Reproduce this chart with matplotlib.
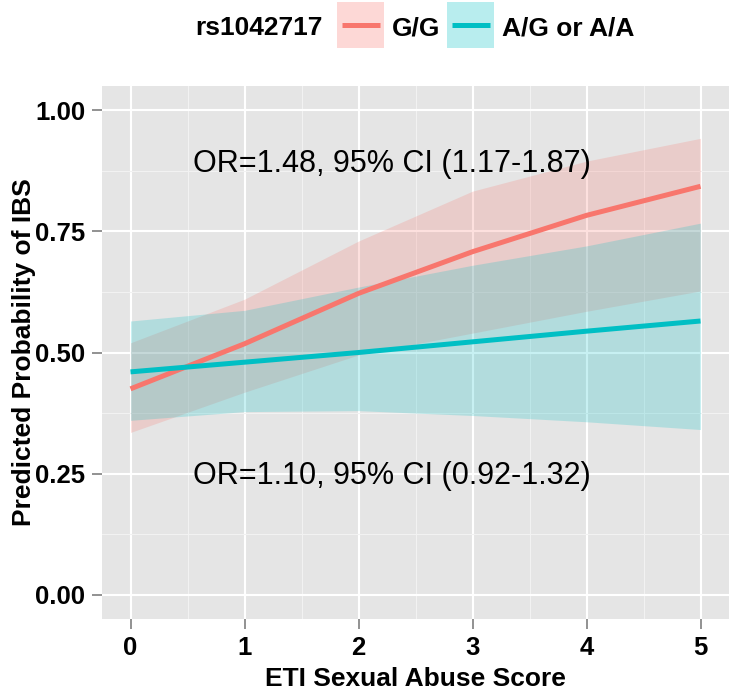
import matplotlib
matplotlib.use('Agg')
import matplotlib.pyplot as plt
from matplotlib.patches import Rectangle
from matplotlib.lines import Line2D
from matplotlib.ticker import MultipleLocator

# Data
score = [0, 1, 2, 3, 4, 5]
gg_fit = [0.425, 0.518, 0.622, 0.708, 0.783, 0.843]
gg_lo = [0.335, 0.418, 0.495, 0.540, 0.585, 0.627]
gg_hi = [0.520, 0.610, 0.730, 0.833, 0.895, 0.942]
ag_fit = [0.460, 0.480, 0.500, 0.522, 0.544, 0.565]
ag_lo = [0.360, 0.378, 0.380, 0.370, 0.357, 0.341]
ag_hi = [0.565, 0.587, 0.635, 0.680, 0.720, 0.767]

x_ticks = [0, 1, 2, 3, 4, 5]
y_ticks = [0.00, 0.25, 0.50, 0.75, 1.00]
group_labels = ['G/G', 'A/G or A/A']
legend_title = 'rs1042717'
annot_top = 'OR=1.48, 95% CI (1.17-1.87)'
annot_bottom = 'OR=1.10, 95% CI (0.92-1.32)'

RED = '#F8766D'
TEAL = '#00BFC4'
W, H = 730, 691

plt.rcParams['font.family'] = ['Liberation Sans', 'DejaVu Sans']

fig = plt.figure(figsize=(W / 100, H / 100), dpi=100)
# panel: 102..729 px wide, 86..619 px tall (from top)
ax = fig.add_axes([102 / W, 1 - 619 / H, 627 / W, 533 / H])
ax.set_facecolor('#E5E5E5')
for s in ax.spines.values():
    s.set_visible(False)

# grid, ggplot style
ax.xaxis.set_minor_locator(MultipleLocator(0.5))
ax.yaxis.set_minor_locator(MultipleLocator(0.125))
ax.grid(which='major', color='white', lw=1.5)
ax.grid(which='minor', color='#F2F2F2', lw=0.8)
ax.set_axisbelow(True)

# confidence bands and fitted lines
ax.fill_between(score, gg_lo, gg_hi, color=RED, alpha=0.22, lw=0)
ax.fill_between(score, ag_lo, ag_hi, color=TEAL, alpha=0.22, lw=0)
ax.plot(score, gg_fit, color=RED, lw=3.6, solid_capstyle='butt')
ax.plot(score, ag_fit, color=TEAL, lw=3.6, solid_capstyle='butt')

ax.text(0.55, 0.872, annot_top, fontsize=22, ha='left', va='baseline')
ax.text(0.55, 0.228, annot_bottom, fontsize=22, ha='left', va='baseline')

ax.set_xlim(-0.25, 5.25)
ax.set_ylim(-0.05, 1.05)
ax.set_xticks(x_ticks)
ax.set_yticks(y_ticks)
ax.set_yticklabels([f'{v:.2f}' for v in y_ticks])
ax.tick_params(which='major', length=7, width=1.2, color='#7F7F7F',
               labelsize=18.5, pad=5)
ax.tick_params(which='minor', length=0)
for lab in ax.get_xticklabels() + ax.get_yticklabels():
    lab.set_fontweight('bold')

# axis titles
fig.text(415 / W, 1 - 686 / H, 'ETI Sexual Abuse Score', fontsize=19,
         fontweight='bold', ha='center', va='baseline')
fig.text(24 / W, 1 - 352 / H, 'Predicted Probability of IBS', fontsize=19,
         fontweight='bold', rotation=90, ha='center', va='center')

# legend on top, built by hand
def px(x, y):
    return x / W, 1 - y / H

fig.text(*px(195, 35), legend_title, fontsize=19, fontweight='bold',
         ha='left', va='baseline')
for x0, col, lab in [(337, RED, group_labels[0]), (447, TEAL, group_labels[1])]:
    fig.patches.append(Rectangle(px(x0, 48), 47 / W, 46 / H, transform=fig.transFigure,
                                 facecolor=col, alpha=0.28, lw=0))
    fig.lines.append(Line2D([(x0 + 5) / W, (x0 + 43) / W], [1 - 25 / H] * 2,
                            transform=fig.transFigure, color=col, lw=3.6,
                            solid_capstyle='butt'))
    fig.text(*px(x0 + 55, 35), lab, fontsize=19, fontweight='bold',
             ha='left', va='baseline')

fig.savefig('out.png', dpi=100)
